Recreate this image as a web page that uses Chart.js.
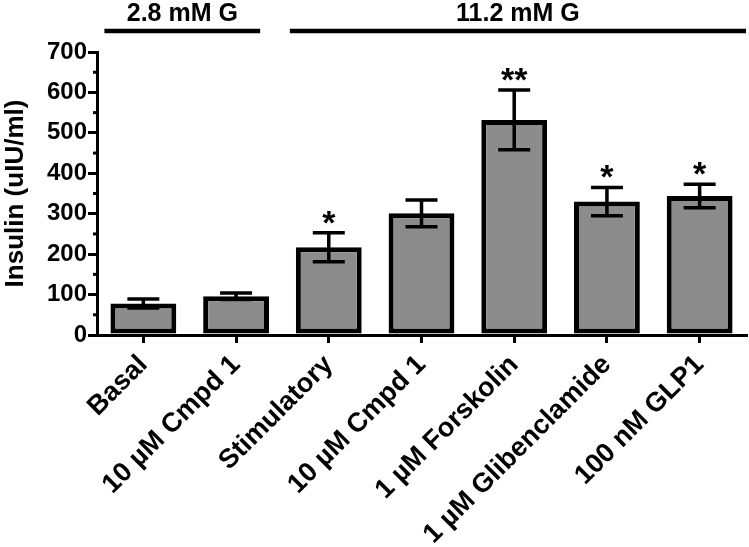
<!DOCTYPE html>
<html>
<head>
<meta charset="UTF-8">
<title>Insulin</title>
<script src="https://cdn.jsdelivr.net/npm/chart.js"></script>
<style>
  body { margin: 0; background: #fff; }
  #wrap { width: 749px; height: 547px; }
</style>
</head>
<body>
<div id="wrap"><canvas id="c" width="749" height="547"></canvas></div>
<script>
  // data
  const categories = ['Basal', '10 \u00b5M Cmpd 1', 'Stimulatory', '10 \u00b5M Cmpd 1',
    '1 \u00b5M Forskolin', '1 \u00b5M Glibenclamide', '100 nM GLP1'];
  const insulin = [78, 96, 217, 301, 532, 330, 344];
  const sem = [11, 8, 36, 33, 74, 35, 29];
  const stars = ['', '', '*', '', '**', '*', '*'];
  const minorTicks = [50, 150, 250, 350, 450, 550, 650];
  const groups = ['2.8 mM G', '11.2 mM G'];
  const groupStart = [0, 2];
  const groupEnd = [1, 6];

  const FONT = "'Liberation Sans', Arial, sans-serif";

  // error bars + significance stars
  const errorBars = {
    id: 'errorBars',
    afterDatasetsDraw(chart) {
      const ctx = chart.ctx;
      const x = chart.scales.x, y = chart.scales.y;
      ctx.save();
      ctx.strokeStyle = '#000';
      ctx.lineWidth = 3.5;
      insulin.forEach((v, i) => {
        const cx = x.getPixelForValue(i);
        const top = y.getPixelForValue(v + sem[i]);
        const bot = y.getPixelForValue(v - sem[i]);
        ctx.beginPath();
        ctx.moveTo(cx, top); ctx.lineTo(cx, bot);
        ctx.moveTo(cx - 16, top); ctx.lineTo(cx + 16, top);
        ctx.moveTo(cx - 16, bot); ctx.lineTo(cx + 16, bot);
        ctx.stroke();
        if (stars[i]) {
          ctx.fillStyle = '#000';
          ctx.font = 'bold 34px ' + FONT;
          ctx.textAlign = 'center';
          ctx.textBaseline = 'alphabetic';
          ctx.fillText(stars[i], cx, top + 1);
        }
      });
      // short minor ticks on the y axis
      ctx.lineWidth = 3;
      minorTicks.forEach(v => {
        const py = y.getPixelForValue(v);
        ctx.beginPath();
        ctx.moveTo(y.right - 4, py); ctx.lineTo(y.right, py);
        ctx.stroke();
      });
      ctx.restore();
    }
  };

  // glucose group bars above the plot
  const groupLines = {
    id: 'groupLines',
    afterDraw(chart) {
      const ctx = chart.ctx;
      const x = chart.scales.x;
      const step = x.getPixelForValue(1) - x.getPixelForValue(0);
      ctx.save();
      ctx.fillStyle = '#000';
      ctx.strokeStyle = '#000';
      ctx.lineWidth = 4.5;
      groups.forEach((g, k) => {
        const x0 = x.getPixelForValue(groupStart[k]) - step * 0.42;
        const x1 = k === groups.length - 1 ? chart.chartArea.right : x.getPixelForValue(groupEnd[k]) + step * 0.26;
        ctx.beginPath();
        ctx.moveTo(x0, 31); ctx.lineTo(x1, 31);
        ctx.stroke();
        ctx.font = 'bold 25px ' + FONT;
        ctx.textAlign = 'center';
        ctx.textBaseline = 'alphabetic';
        ctx.fillText(g, (x0 + x1) / 2, 21);
      });
      ctx.restore();
    }
  };

  new Chart(document.getElementById('c'), {
    type: 'bar',
    data: {
      labels: categories,
      datasets: [{
        data: insulin,
        backgroundColor: '#8c8c8c',
        borderColor: '#000',
        borderWidth: 5,
        borderSkipped: false,
        categoryPercentage: 1,
        barPercentage: 0.71
      }]
    },
    options: {
      responsive: false,
      animation: false,
      layout: { padding: { top: 52, right: 3, left: 0, bottom: 0 } },
      plugins: { legend: { display: false }, tooltip: { enabled: false } },
      scales: {
        x: {
          afterFit(s) { s.height = 212; },
          border: { color: '#000', width: 3 },
          grid: { drawOnChartArea: false, offset: false, color: '#000', tickLength: 8, lineWidth: 3 },
          ticks: {
            color: '#000', maxRotation: 45, minRotation: 45, padding: 6,
            font: { family: FONT, size: 27, weight: 'bold' }
          }
        },
        y: {
          min: 0, max: 700,
          afterFit(s) { s.width = 97; },
          border: { color: '#000', width: 3 },
          grid: { drawOnChartArea: false, color: '#000', tickLength: 9, lineWidth: 3 },
          title: {
            display: true, text: 'Insulin (uIU/ml)', color: '#000', padding: 0,
            font: { family: FONT, size: 26, weight: 'bold' }
          },
          ticks: {
            stepSize: 100, color: '#000', padding: 1,
            font: { family: FONT, size: 24, weight: 'bold' }
          }
        }
      }
    },
    plugins: [errorBars, groupLines]
  });
</script>
</body>
</html>
